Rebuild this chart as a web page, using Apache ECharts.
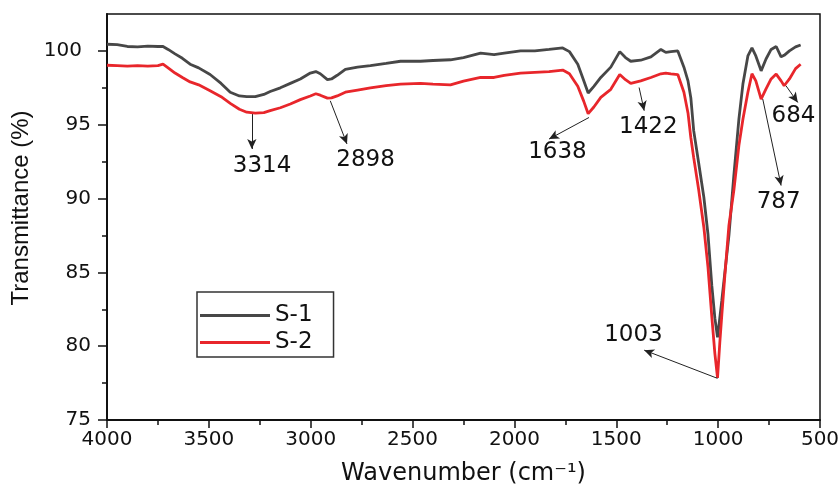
<!DOCTYPE html>
<html>
<head>
<meta charset="utf-8">
<script src="https://cdn.jsdelivr.net/npm/echarts@6/dist/echarts.min.js"></script>
<style>
  html, body { margin: 0; padding: 0; background: #fff; }
  #chart { width: 840px; height: 486px; }
</style>
</head>
<body>
<div id="chart"></div>
<script>
// FTIR spectra of the two samples, transmittance (%) against wavenumber (cm-1)
const wavenumber = [4000,3950,3900,3850,3800,3750,3725,3700,3666,3630,3592,3550,3494,3440,3395,3350,3314,3272,3230,3199,3149,3100,3051,3002,2975,2953,2918,2898,2870,2830,2770,2707,2630,2559,2461,2400,2314,2250,2166,2100,2050,1970,1900,1830,1763,1730,1689,1660,1638,1610,1576,1527,1483,1455,1429,1380,1330,1281,1257,1232,1198,1168,1148,1134,1120,1095,1070,1050,1031,1016,1003,992,982,967,947,923,898,878,854,834,815,789,765,740,715,691,676,650,620,595];

const s1 = [100.45,100.42,100.30,100.28,100.33,100.30,100.30,100.10,99.80,99.50,99.10,98.85,98.40,97.80,97.20,96.95,96.90,96.90,97.05,97.25,97.50,97.80,98.10,98.50,98.60,98.45,98.05,98.10,98.35,98.75,98.90,99.00,99.15,99.30,99.30,99.35,99.40,99.55,99.85,99.75,99.85,100.00,100.00,100.10,100.20,99.95,99.10,98.00,97.15,97.60,98.20,98.90,99.95,99.55,99.30,99.37,99.60,100.10,99.90,99.95,100.00,98.90,97.97,96.82,94.60,92.36,90.07,87.60,84.10,81.90,80.60,81.90,83.10,85.00,87.50,91.55,95.40,97.80,99.66,100.20,99.66,98.65,99.45,100.10,100.30,99.60,99.70,100.00,100.27,100.40];

const s2 = [99.03,99.00,98.97,99.00,98.97,99.00,99.10,98.85,98.50,98.20,97.90,97.70,97.30,96.90,96.45,96.05,95.85,95.78,95.82,95.95,96.15,96.40,96.70,96.95,97.10,97.00,96.80,96.82,96.95,97.20,97.35,97.50,97.65,97.75,97.80,97.75,97.70,97.95,98.20,98.20,98.35,98.50,98.55,98.60,98.70,98.45,97.60,96.60,95.75,96.20,96.85,97.40,98.40,98.05,97.80,97.97,98.20,98.45,98.50,98.45,98.40,97.20,95.80,94.12,92.77,90.54,88.04,85.37,81.98,79.50,77.85,80.20,82.10,84.80,88.20,90.54,93.60,95.40,97.20,98.45,97.97,96.74,97.43,98.10,98.43,97.97,97.64,98.10,98.80,99.10];

const seriesNames = ['S-1', 'S-2'];
const yTicks = [75, 80, 85, 90, 95, 100];

// Peak annotations: label text, arrow tail, arrow head, label centre (wavenumber, %T)
const peakText = ['3314', '2898', '1638', '1422', '1003', '787', '684'];
const arrowTail = [[3289, 95.72], [2904, 96.62], [1634, 95.49], [1388, 97.52], [1003, 77.82], [781, 96.74], [667, 97.64]];
const arrowHead = [[3289, 93.36], [2822, 93.70], [1830, 94.03], [1363, 95.95], [1363, 79.73], [691, 90.88], [609, 96.51]];
const labelAt   = [[3239, 92.23], [2731, 92.64], [1789, 93.13], [1343, 94.82], [1416, 80.74], [703, 89.75], [630, 95.61]];

const FONT = 'DejaVu Sans';
const INK = '#111';
const GREY = '#474747';
const RED = '#e8262b';

const chart = echarts.init(document.getElementById('chart'), null, { renderer: 'canvas' });

const option = {
  animation: false,
  backgroundColor: '#fff',
  grid: {
    left: 107, right: 20, top: 14, bottom: 66,
    outerBoundsMode: 'none',
    show: true, borderColor: INK, borderWidth: 1.5, backgroundColor: 'transparent'
  },
  legend: {
    data: [
      { name: seriesNames[0], icon: 'rect', itemStyle: { color: GREY } },
      { name: seriesNames[1], icon: 'rect', itemStyle: { color: RED } }
    ],
    orient: 'vertical',
    left: 197, top: 292,
    itemWidth: 70, itemHeight: 3, itemGap: 4,
    padding: [12, 21, 3, 3],
    borderColor: '#333', borderWidth: 1.5,
    textStyle: { fontFamily: FONT, fontSize: 23, color: INK, lineHeight: 23 }
  },
  xAxis: {
    type: 'value', min: 500, max: 4000, interval: 500, inverse: true,
    name: 'Wavenumber (cm⁻¹)', nameLocation: 'middle', nameGap: 42,
    nameTextStyle: { fontFamily: FONT, fontSize: 24, color: INK },
    axisLine: { show: true, lineStyle: { color: INK, width: 2 } },
    axisTick: { show: true, inside: false, length: 8, lineStyle: { color: INK, width: 1.5 } },
    minorTick: { show: true, splitNumber: 2, length: 5, lineStyle: { color: INK, width: 1.5 } },
    axisLabel: { fontFamily: FONT, fontSize: 20, color: INK, margin: 10, formatter: v => String(v) },
    splitLine: { show: false }, minorSplitLine: { show: false }
  },
  yAxis: {
    type: 'value', min: 75, max: 102.5, interval: 5,
    name: 'Transmittance (%)', nameLocation: 'middle', nameGap: 68,
    nameTextStyle: { fontFamily: 'Liberation Sans', fontSize: 24, color: INK, padding: [0, 0, 0, 18] },
    axisLine: { show: true, lineStyle: { color: INK, width: 2 } },
    axisTick: { show: true, inside: false, length: 9, customValues: yTicks, lineStyle: { color: INK, width: 1.5 } },
    minorTick: { show: true, splitNumber: 2, length: 5, lineStyle: { color: INK, width: 1.5 } },
    axisLabel: {
      fontFamily: FONT, fontSize: 20, color: INK, margin: 16, customValues: yTicks,
      formatter: v => (v === 100 ? '{p|100}' : String(v)),
      rich: { p: { fontFamily: FONT, fontSize: 20, color: INK, padding: [0, 9, 0, 0] } }
    },
    splitLine: { show: false }, minorSplitLine: { show: false }
  },
  series: [
    {
      name: seriesNames[0], type: 'line', symbol: 'none', smooth: false,
      data: wavenumber.map((w, i) => [w, s1[i]]),
      lineStyle: { color: GREY, width: 2.8 }, itemStyle: { color: GREY }
    },
    {
      name: seriesNames[1], type: 'line', symbol: 'none', smooth: false,
      data: wavenumber.map((w, i) => [w, s2[i]]),
      lineStyle: { color: RED, width: 2.8 }, itemStyle: { color: RED },
      markLine: {
        silent: true, animation: false,
        symbol: ['none', 'arrow'], symbolSize: [7, 10],
        lineStyle: { color: '#222', width: 1, type: 'solid' },
        label: { show: false },
        emphasis: { disabled: true },
        data: peakText.map((t, i) => [{ coord: arrowTail[i] }, { coord: arrowHead[i] }])
      },
      markPoint: {
        silent: true, animation: false,
        symbol: 'circle', symbolSize: 0,
        itemStyle: { color: 'transparent' },
        label: { show: true, position: 'inside', formatter: '{c}', fontFamily: FONT, fontSize: 23, color: INK },
        data: peakText.map((t, i) => ({ coord: labelAt[i], value: t }))
      }
    }
  ]
};

chart.setOption(option);
</script>
</body>
</html>
